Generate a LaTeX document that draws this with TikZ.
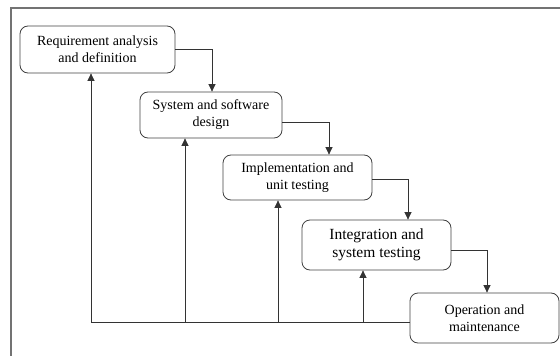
\documentclass[tikz,border=0pt]{standalone}
\usepackage{fontspec}
\setmainfont{Liberation Serif}
\usetikzlibrary{arrows.meta}
\begin{document}
\begin{tikzpicture}[x=1pt,y=-1pt,
  phase/.style={draw=black!75, line width=0.8pt, rounded corners=8pt,
    align=center, inner sep=0pt, font=\fontsize{14}{17}\selectfont},
  flow/.style={draw=black!80, line width=0.7pt,
    -{Triangle[width=7pt,length=7.5pt]}},
  back/.style={draw=black!80, line width=0.7pt}]
  \useasboundingbox (0,0) rectangle (560,356);
  % page frame
  \draw[black!55, line width=1.2pt] (11,356) -- (11,8) -- (560,8);
  % phases
  \node[phase, minimum width=155pt, minimum height=47pt] (req) at (97.5,49.5)
    {Requirement analysis\\and definition};
  \node[phase, minimum width=142pt, minimum height=46pt] (des) at (211,115)
    {System and software\\design};
  \node[phase, minimum width=149pt, minimum height=45pt] (imp) at (297.5,177.5)
    {Implementation and\\unit testing};
  \node[phase, minimum width=149pt, minimum height=50pt,
    font=\fontsize{15.5}{18}\selectfont] (int) at (376.5,245)
    {Integration and\\system testing};
  \node[phase, minimum width=149pt, minimum height=50pt] (ops) at (484.5,318)
    {Operation and\\maintenance};
  % forward flow
  \draw[flow] (req.east |- 0,49) -| (212,0 |- des.north);
  \draw[flow] (des.east |- 0,122) -| (329,0 |- imp.north);
  \draw[flow] (imp.east |- 0,179) -| (408,0 |- int.north);
  \draw[flow] (int.east |- 0,250) -| (487,0 |- ops.north);
  % feedback paths
  \coordinate (b1) at (91,322);
  \coordinate (b2) at (185,322);
  \coordinate (b3) at (278,322);
  \coordinate (b4) at (363,322);
  \draw[back] (ops.west |- b1) -- (b1);
  \draw[flow] (b1) -- (b1 |- req.south);
  \draw[flow] (b2) -- (b2 |- des.south);
  \draw[flow] (b3) -- (b3 |- imp.south);
  \draw[flow] (b4) -- (b4 |- int.south);
\end{tikzpicture}
\end{document}
